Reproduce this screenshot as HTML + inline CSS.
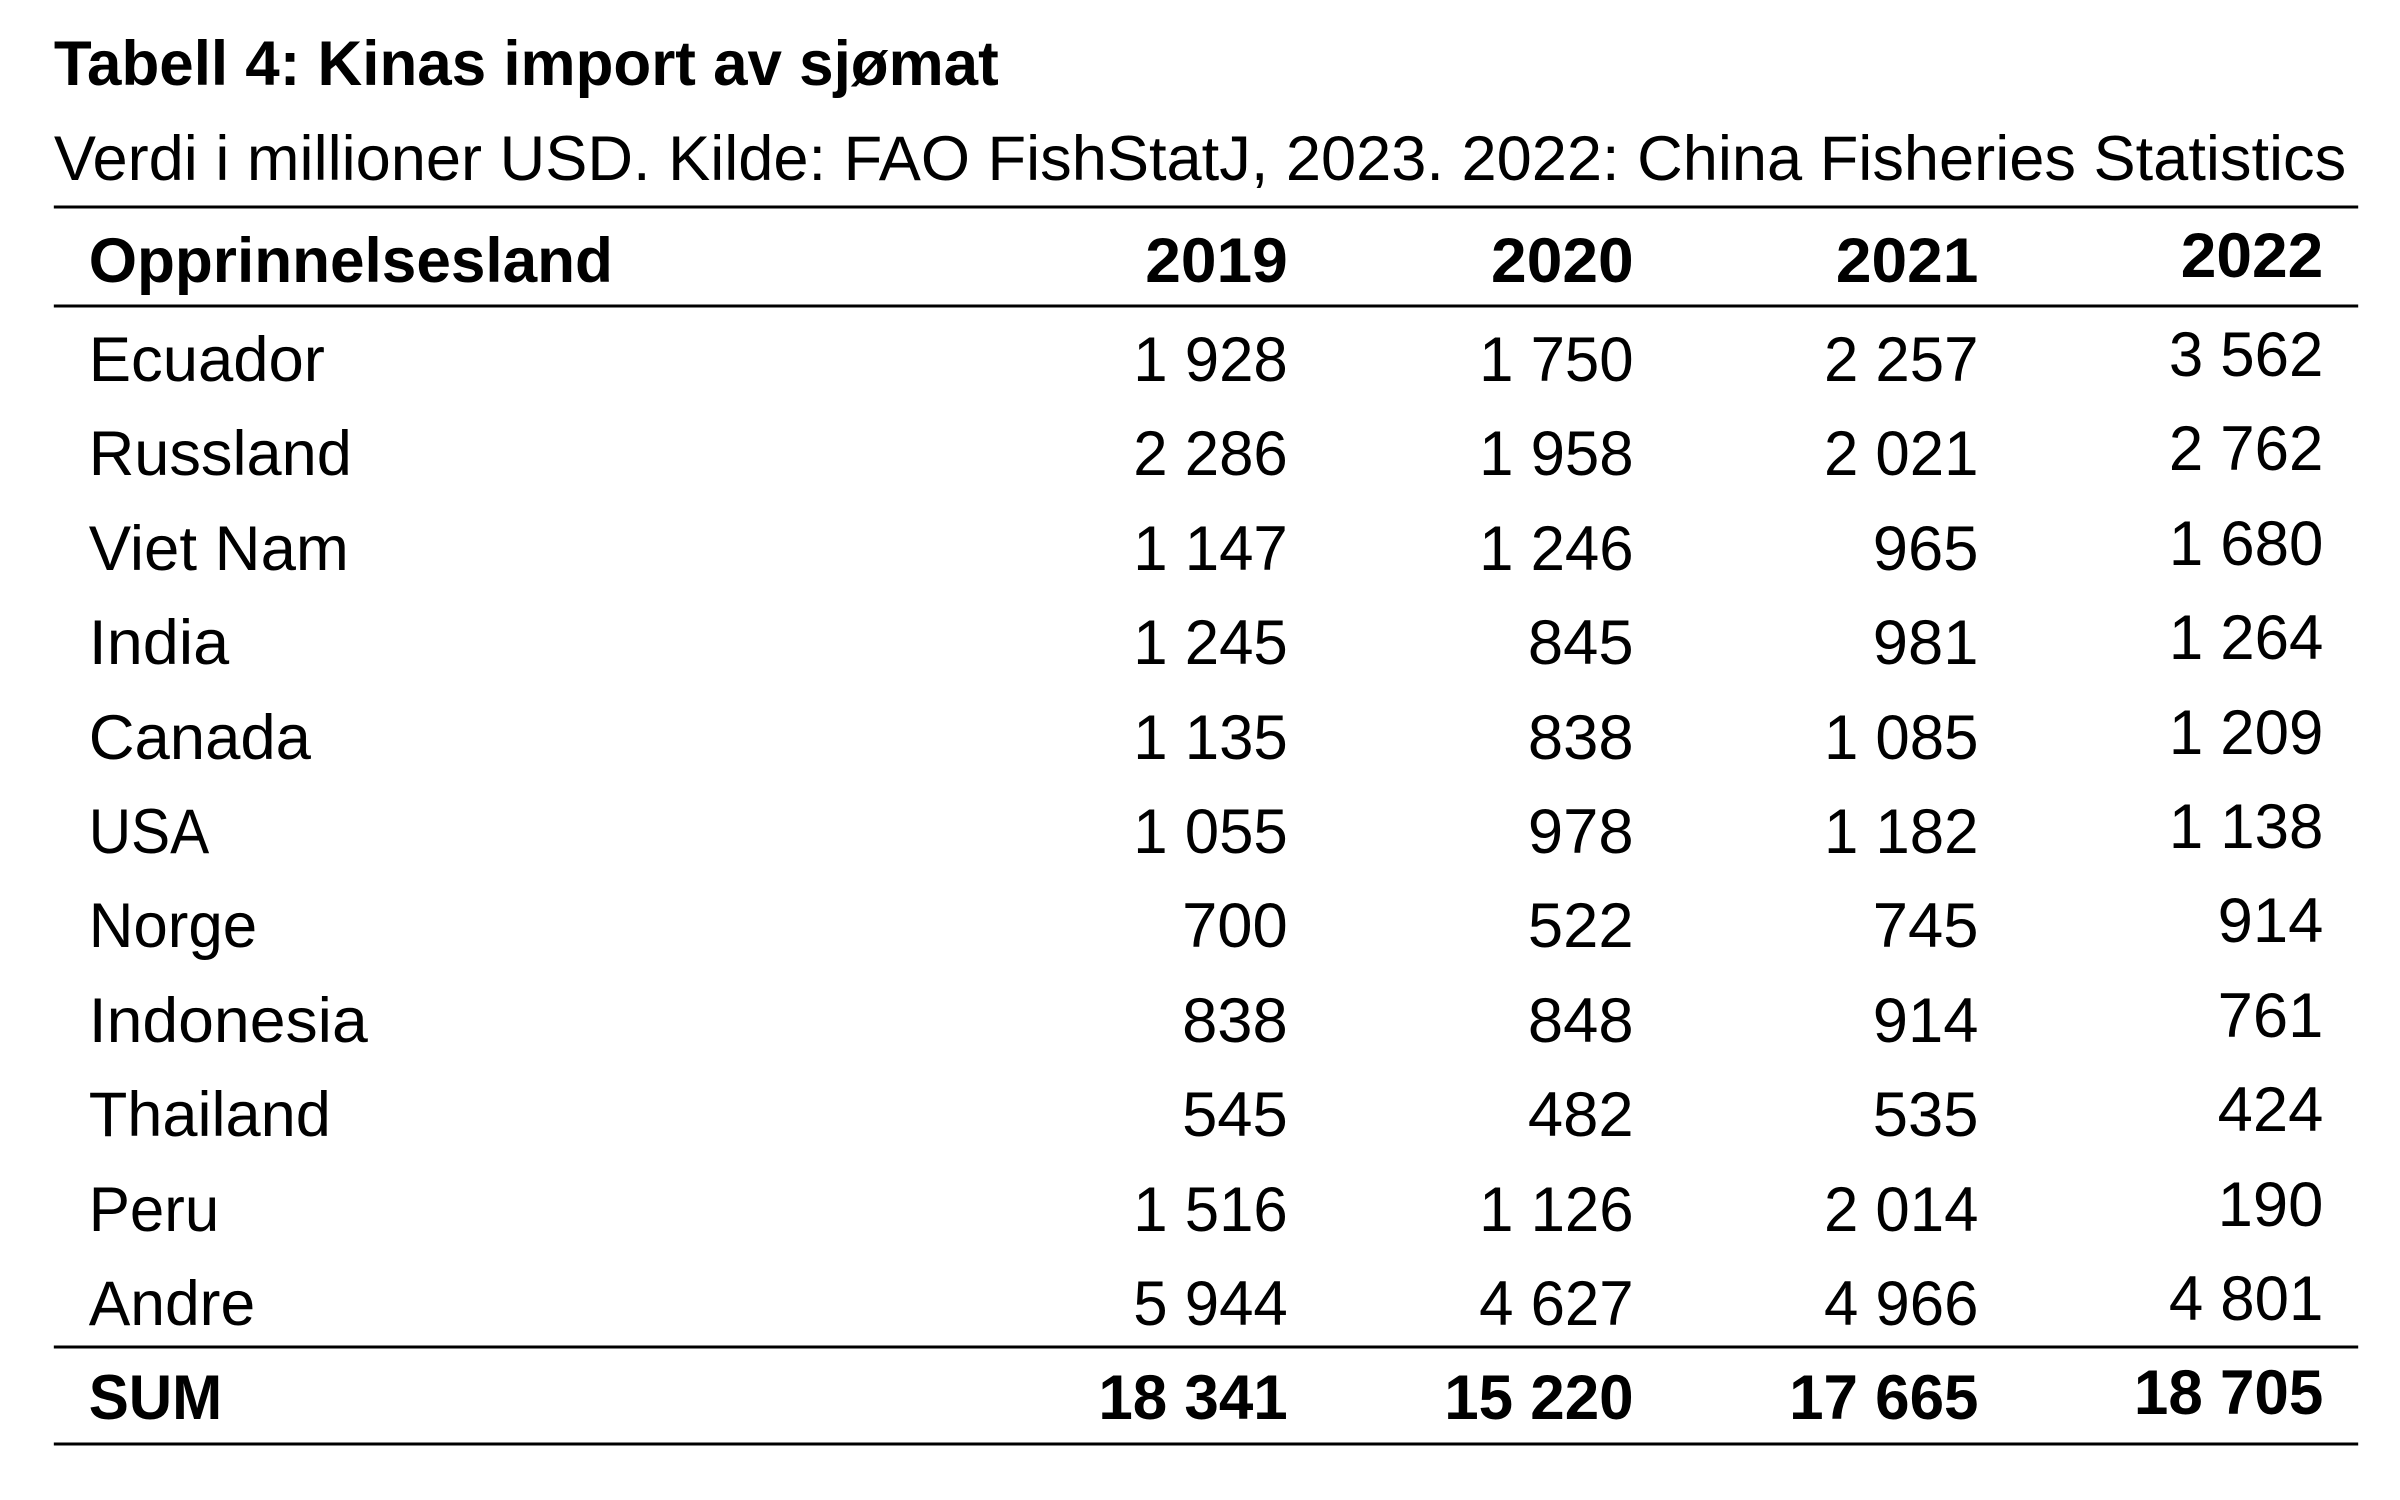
<!DOCTYPE html>
<html><head><meta charset="utf-8"><style>
html,body{margin:0;padding:0;background:#fff;}
svg{display:block;}
text{font-family:"Liberation Sans",sans-serif;fill:#000;}
.b{font-weight:bold;}
</style></head><body>
<svg width="2400" height="1500" viewBox="0 0 2400 1500" xmlns="http://www.w3.org/2000/svg">
<g transform="scale(0.9967,1)">
<text x="54" y="85" font-size="63" class="b" textLength="948" lengthAdjust="spacingAndGlyphs">Tabell 4: Kinas import av sjømat</text>
<text x="54" y="180" font-size="63" textLength="2300" lengthAdjust="spacingAndGlyphs">Verdi i millioner USD. Kilde: FAO FishStatJ, 2023. 2022: China Fisheries Statistics</text>
<line x1="54" y1="207" x2="2366" y2="207" stroke="#000" stroke-width="3"/>
<line x1="54" y1="306" x2="2366" y2="306" stroke="#000" stroke-width="3"/>
<line x1="54" y1="1347" x2="2366" y2="1347" stroke="#000" stroke-width="3"/>
<line x1="54" y1="1444" x2="2366" y2="1444" stroke="#000" stroke-width="3"/>
<g font-size="63" class="b">
<text x="89" y="282" textLength="526" lengthAdjust="spacingAndGlyphs">Opprinnelsesland</text>
<text x="1292" y="282" text-anchor="end" textLength="143" lengthAdjust="spacingAndGlyphs">2019</text>
<text x="1639" y="282" text-anchor="end" textLength="143" lengthAdjust="spacingAndGlyphs">2020</text>
<text x="1985" y="282" text-anchor="end" textLength="143" lengthAdjust="spacingAndGlyphs">2021</text>
<text x="2331" y="277" text-anchor="end" textLength="143" lengthAdjust="spacingAndGlyphs">2022</text>
</g>
<g font-size="63">
<text x="89" y="381" textLength="237" lengthAdjust="spacingAndGlyphs">Ecuador</text>
<text x="89" y="475" textLength="264" lengthAdjust="spacingAndGlyphs">Russland</text>
<text x="89" y="570" textLength="261" lengthAdjust="spacingAndGlyphs">Viet Nam</text>
<text x="89" y="664" textLength="141" lengthAdjust="spacingAndGlyphs">India</text>
<text x="89" y="759" textLength="223" lengthAdjust="spacingAndGlyphs">Canada</text>
<text x="89" y="853" textLength="121" lengthAdjust="spacingAndGlyphs">USA</text>
<text x="89" y="947" textLength="169" lengthAdjust="spacingAndGlyphs">Norge</text>
<text x="89" y="1042" textLength="280" lengthAdjust="spacingAndGlyphs">Indonesia</text>
<text x="89" y="1136" textLength="243" lengthAdjust="spacingAndGlyphs">Thailand</text>
<text x="89" y="1231" textLength="131" lengthAdjust="spacingAndGlyphs">Peru</text>
<text x="89" y="1325" textLength="167" lengthAdjust="spacingAndGlyphs">Andre</text>
</g>
<g font-size="63" text-anchor="end">
<text x="1292" y="381" textLength="155" lengthAdjust="spacingAndGlyphs">1 928</text>
<text x="1639" y="381" textLength="155" lengthAdjust="spacingAndGlyphs">1 750</text>
<text x="1985" y="381" textLength="155" lengthAdjust="spacingAndGlyphs">2 257</text>
<text x="2331" y="376" textLength="155" lengthAdjust="spacingAndGlyphs">3 562</text>
<text x="1292" y="475" textLength="155" lengthAdjust="spacingAndGlyphs">2 286</text>
<text x="1639" y="475" textLength="155" lengthAdjust="spacingAndGlyphs">1 958</text>
<text x="1985" y="475" textLength="155" lengthAdjust="spacingAndGlyphs">2 021</text>
<text x="2331" y="470" textLength="155" lengthAdjust="spacingAndGlyphs">2 762</text>
<text x="1292" y="570" textLength="155" lengthAdjust="spacingAndGlyphs">1 147</text>
<text x="1639" y="570" textLength="155" lengthAdjust="spacingAndGlyphs">1 246</text>
<text x="1985" y="570" textLength="106" lengthAdjust="spacingAndGlyphs">965</text>
<text x="2331" y="565" textLength="155" lengthAdjust="spacingAndGlyphs">1 680</text>
<text x="1292" y="664" textLength="155" lengthAdjust="spacingAndGlyphs">1 245</text>
<text x="1639" y="664" textLength="106" lengthAdjust="spacingAndGlyphs">845</text>
<text x="1985" y="664" textLength="106" lengthAdjust="spacingAndGlyphs">981</text>
<text x="2331" y="659" textLength="155" lengthAdjust="spacingAndGlyphs">1 264</text>
<text x="1292" y="759" textLength="155" lengthAdjust="spacingAndGlyphs">1 135</text>
<text x="1639" y="759" textLength="106" lengthAdjust="spacingAndGlyphs">838</text>
<text x="1985" y="759" textLength="155" lengthAdjust="spacingAndGlyphs">1 085</text>
<text x="2331" y="754" textLength="155" lengthAdjust="spacingAndGlyphs">1 209</text>
<text x="1292" y="853" textLength="155" lengthAdjust="spacingAndGlyphs">1 055</text>
<text x="1639" y="853" textLength="106" lengthAdjust="spacingAndGlyphs">978</text>
<text x="1985" y="853" textLength="155" lengthAdjust="spacingAndGlyphs">1 182</text>
<text x="2331" y="848" textLength="155" lengthAdjust="spacingAndGlyphs">1 138</text>
<text x="1292" y="947" textLength="106" lengthAdjust="spacingAndGlyphs">700</text>
<text x="1639" y="947" textLength="106" lengthAdjust="spacingAndGlyphs">522</text>
<text x="1985" y="947" textLength="106" lengthAdjust="spacingAndGlyphs">745</text>
<text x="2331" y="942" textLength="106" lengthAdjust="spacingAndGlyphs">914</text>
<text x="1292" y="1042" textLength="106" lengthAdjust="spacingAndGlyphs">838</text>
<text x="1639" y="1042" textLength="106" lengthAdjust="spacingAndGlyphs">848</text>
<text x="1985" y="1042" textLength="106" lengthAdjust="spacingAndGlyphs">914</text>
<text x="2331" y="1037" textLength="106" lengthAdjust="spacingAndGlyphs">761</text>
<text x="1292" y="1136" textLength="106" lengthAdjust="spacingAndGlyphs">545</text>
<text x="1639" y="1136" textLength="106" lengthAdjust="spacingAndGlyphs">482</text>
<text x="1985" y="1136" textLength="106" lengthAdjust="spacingAndGlyphs">535</text>
<text x="2331" y="1131" textLength="106" lengthAdjust="spacingAndGlyphs">424</text>
<text x="1292" y="1231" textLength="155" lengthAdjust="spacingAndGlyphs">1 516</text>
<text x="1639" y="1231" textLength="155" lengthAdjust="spacingAndGlyphs">1 126</text>
<text x="1985" y="1231" textLength="155" lengthAdjust="spacingAndGlyphs">2 014</text>
<text x="2331" y="1226" textLength="106" lengthAdjust="spacingAndGlyphs">190</text>
<text x="1292" y="1325" textLength="155" lengthAdjust="spacingAndGlyphs">5 944</text>
<text x="1639" y="1325" textLength="155" lengthAdjust="spacingAndGlyphs">4 627</text>
<text x="1985" y="1325" textLength="155" lengthAdjust="spacingAndGlyphs">4 966</text>
<text x="2331" y="1320" textLength="155" lengthAdjust="spacingAndGlyphs">4 801</text>
</g>
<g font-size="63" class="b">
<text x="89" y="1419" textLength="134" lengthAdjust="spacingAndGlyphs">SUM</text>
<text x="1292" y="1419" text-anchor="end" textLength="190" lengthAdjust="spacingAndGlyphs">18 341</text>
<text x="1639" y="1419" text-anchor="end" textLength="190" lengthAdjust="spacingAndGlyphs">15 220</text>
<text x="1985" y="1419" text-anchor="end" textLength="190" lengthAdjust="spacingAndGlyphs">17 665</text>
<text x="2331" y="1414" text-anchor="end" textLength="190" lengthAdjust="spacingAndGlyphs">18 705</text>
</g>
</g>
</svg>
</body></html>
